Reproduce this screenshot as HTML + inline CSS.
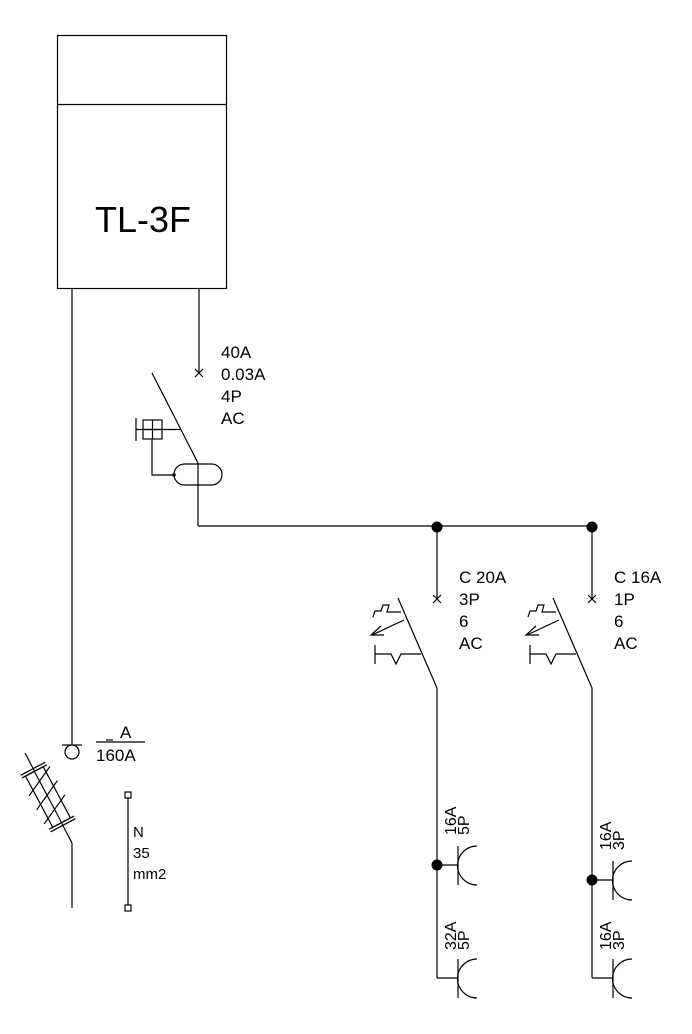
<!DOCTYPE html>
<html><head><meta charset="utf-8"><style>
html,body{margin:0;padding:0;background:#fff;}
svg{display:block;}
text{font-family:"Liberation Sans",Arial,sans-serif;fill:#000;}
</style></head><body>
<svg width="692" height="1034" viewBox="0 0 692 1034" xmlns="http://www.w3.org/2000/svg">
<rect width="692" height="1034" fill="#fff"/>
<g stroke="#000" stroke-width="1.2" fill="none">
<rect x="57.5" y="35.5" width="169" height="253"/>
<line x1="57" y1="104.5" x2="226" y2="104.5"/>
<line x1="72" y1="288" x2="72" y2="745"/>
<line x1="62" y1="745" x2="82" y2="745"/>
<circle cx="72" cy="752" r="7"/>
<line x1="25" y1="753" x2="72" y2="843"/>
<line x1="72" y1="843" x2="72" y2="908"/>
<g transform="translate(48,797) rotate(-28)">
<rect x="-10" y="-29" width="20" height="58" fill="#fff"/>
<line x1="-14" y1="-32" x2="14" y2="-32"/>
<line x1="-14" y1="-29" x2="14" y2="-29"/>
<line x1="-14" y1="29" x2="14" y2="29"/>
<line x1="-14" y1="32" x2="14" y2="32"/>
<line x1="-16" y1="-10" x2="16" y2="-26"/>
<line x1="-16" y1="6" x2="16" y2="-10"/>
<line x1="-16" y1="22" x2="16" y2="6"/>
<line x1="0" y1="-29" x2="0" y2="29"/>
</g>
<line x1="128" y1="798" x2="128" y2="905"/>
<rect x="125" y="792" width="6" height="6"/>
<rect x="125" y="905" width="6" height="6"/>
<line x1="96" y1="742" x2="145" y2="742"/>
<line x1="106" y1="740" x2="113" y2="740"/>
<line x1="199" y1="288" x2="199" y2="373"/>
<path d="M195,369 L203,377 M203,369 L195,377"/>
<line x1="152" y1="373" x2="198" y2="463"/>
<line x1="198" y1="463" x2="198" y2="526"/>
<line x1="198" y1="526" x2="592" y2="526"/>
<rect x="143" y="420" width="19" height="19"/>
<line x1="152.5" y1="420" x2="152.5" y2="439"/>
<line x1="143" y1="429.5" x2="162" y2="429.5"/>
<line x1="136" y1="418" x2="136" y2="441"/>
<line x1="136" y1="429.5" x2="180" y2="429.5"/>
<path d="M152,439 L152,475 L174,475"/>
<rect x="174" y="464" width="48" height="21" rx="10.5"/>
</g>
<circle cx="174" cy="475" r="1.8"/>
<circle cx="437" cy="527" r="5.5"/>
<circle cx="592" cy="527" r="5.5"/>
<g id="br" stroke="#000" stroke-width="1.2" fill="none">
<line x1="437" y1="527" x2="437" y2="599"/>
<path d="M433,595 L441,603 M441,595 L433,603"/>
<line x1="398" y1="598" x2="437" y2="688"/>
<line x1="437" y1="688" x2="437" y2="978"/>
<path d="M373,617 L375,611 L381,611 L383,605 L389,605 L387,612 L401,612"/>
<line x1="404" y1="620" x2="372" y2="635"/>
<path d="M381,626 L371,635 L384,635"/>
<line x1="375" y1="645" x2="375" y2="664"/>
<path d="M375,654 L391,654 L396,664 L401,654 L421,654"/>
</g>
<use href="#br" transform="translate(155,0)"/>
<g stroke="#000" stroke-width="1.2" fill="none">
<line x1="437" y1="865" x2="458" y2="865"/>
<line x1="458" y1="846" x2="458" y2="885"/>
<path d="M477,846 A19,19 0 0 0 477,885"/>
<line x1="437" y1="978" x2="458" y2="978"/>
<line x1="458" y1="959" x2="458" y2="998"/>
<path d="M477,959 A19,19 0 0 0 477,998"/>
<line x1="592" y1="880" x2="613" y2="880"/>
<line x1="613" y1="861" x2="613" y2="900"/>
<path d="M632,861 A19,19 0 0 0 632,900"/>
<line x1="592" y1="978" x2="613" y2="978"/>
<line x1="613" y1="959" x2="613" y2="998"/>
<path d="M632,959 A19,19 0 0 0 632,998"/>
</g>
<circle cx="437" cy="865" r="5.5"/>
<circle cx="592" cy="880" r="5.5"/>
<text x="143" y="232" font-size="36" text-anchor="middle">TL-3F</text>
<g font-size="17">
<text x="221" y="358">40A</text><text x="221" y="380">0.03A</text><text x="221" y="402">4P</text><text x="221" y="424">AC</text>
<text x="459" y="583">C 20A</text><text x="459" y="605">3P</text><text x="459" y="627">6</text><text x="459" y="649">AC</text>
<text x="614" y="583">C 16A</text><text x="614" y="605">1P</text><text x="614" y="627">6</text><text x="614" y="649">AC</text>
<text x="120" y="738">A</text><text x="96" y="761">160A</text>
</g>
<g font-size="15">
<text x="133" y="837">N</text><text x="133" y="858">35</text><text x="133" y="879">mm2</text>
</g>
<g font-size="16">
<text transform="translate(456,835) rotate(-90)">16A</text>
<text transform="translate(469,835) rotate(-90)">5P</text>
<text transform="translate(456,950) rotate(-90)">32A</text>
<text transform="translate(469,950) rotate(-90)">5P</text>
<text transform="translate(611,850) rotate(-90)">16A</text>
<text transform="translate(624,850) rotate(-90)">3P</text>
<text transform="translate(611,950) rotate(-90)">16A</text>
<text transform="translate(624,950) rotate(-90)">3P</text>
</g>
</svg>
</body></html>
